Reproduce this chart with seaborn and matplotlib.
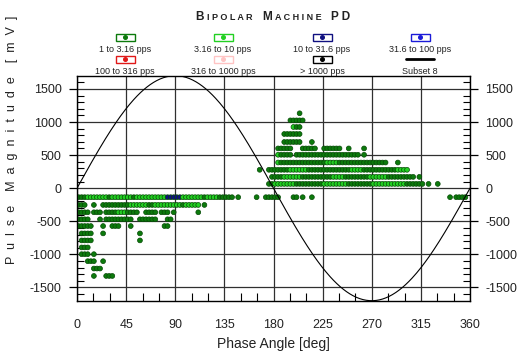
import numpy as np
import pandas as pd
import matplotlib
matplotlib.use("Agg")
import matplotlib.pyplot as plt
import seaborn as sns
from matplotlib.patches import Rectangle
from matplotlib.lines import Line2D
from matplotlib.offsetbox import TextArea, HPacker, AnchoredOffsetbox

# phase resolved PD pattern, 128 phase bins
phase_bin = 360 / 128
row_mv = [-136, -253, -364, -470, -572, -683, -789, -895, -997, -1103, -1214, -1326,
          65, 171, 278, 388, 505, 601, 698, 819, 925, 1025, 1132]
# (first bin, last bin, rate class) for every row
row_runs = [
    [(0, 2, 1), (3, 9, 2), (10, 10, 1), (11, 17, 2), (18, 18, 1), (19, 28, 2), (29, 33, 3),
     (34, 40, 2), (41, 41, 1), (42, 45, 2), (46, 50, 1), (52, 52, 1), (58, 58, 1), (61, 65, 1),
     (70, 71, 1), (73, 73, 1), (76, 76, 1), (121, 121, 1), (123, 126, 1)],
    [(0, 2, 1), (5, 5, 1), (8, 16, 1), (17, 22, 2), (23, 24, 1), (25, 33, 2), (34, 34, 1),
     (35, 39, 2), (41, 41, 1)],
    [(0, 3, 1), (5, 7, 1), (9, 12, 1), (13, 15, 2), (16, 19, 1), (22, 25, 1), (27, 29, 1),
     (31, 31, 1), (39, 39, 1)],
    [(0, 3, 1), (7, 7, 1), (9, 17, 1), (20, 25, 1), (29, 30, 1)],
    [(0, 4, 1), (8, 8, 1), (11, 13, 1), (17, 17, 1), (28, 29, 1)],
    [(1, 4, 1), (8, 8, 1), (20, 20, 1)],
    [(1, 4, 1), (20, 20, 1)],
    [(1, 3, 1)],
    [(1, 3, 1), (5, 5, 1)],
    [(3, 5, 1), (8, 8, 1)],
    [(5, 7, 1)],
    [(5, 5, 1), (9, 11, 1)],
    [(62, 63, 1), (64, 70, 2), (71, 79, 1), (80, 87, 2), (88, 95, 1), (96, 106, 2),
     (107, 112, 1), (114, 114, 1), (117, 117, 1)],
    [(63, 66, 1), (67, 72, 2), (73, 82, 1), (83, 86, 2), (87, 94, 1), (95, 100, 2),
     (101, 109, 1), (111, 111, 1)],
    [(59, 59, 1), (62, 68, 1), (69, 74, 2), (75, 88, 1), (89, 92, 2), (93, 103, 1),
     (104, 107, 2)],
    [(65, 65, 2), (66, 80, 1), (81, 84, 2), (85, 100, 1), (104, 104, 1)],
    [(65, 65, 2), (66, 69, 1), (71, 91, 1), (93, 93, 1)],
    [(65, 69, 1), (73, 77, 1), (80, 85, 1), (88, 88, 1), (93, 93, 1)],
    [(67, 72, 1), (76, 76, 1)],
    [(67, 72, 1)],
    [(70, 70, 2), (71, 72, 1)],
    [(69, 73, 1)],
    [(72, 72, 1)],
]

rate_labels = ["1 to 3.16 pps", "3.16 to 10 pps", "10 to 31.6 pps", "31.6 to 100 pps",
               "100 to 316 pps", "316 to 1000 pps", "> 1000 pps"]
rate_colors = ["#0c7a0c", "#22d022", "#101080", "#1a1ad8", "#e01818", "#ffc4c4", "#000000"]
sine_amp = 1700

pts = []
for mv, runs in zip(row_mv, row_runs):
    for b0, b1, cls in runs:
        for b in range(b0, b1 + 1):
            pts.append(((b + 0.5) * phase_bin, mv, rate_labels[cls - 1]))
df = pd.DataFrame(pts, columns=["phase", "mv", "rate"])

sns.set_theme(style="white")
plt.rcParams["font.family"] = ["Liberation Sans", "DejaVu Sans"]
plt.rcParams["axes.unicode_minus"] = False

fig = plt.figure(figsize=(5.21, 3.52), dpi=100)
W, H = 521, 352
ax = fig.add_axes([77 / W, 1 - 300.7 / H, 393 / W, 225 / H])

ax.grid(True, which="major", color="#303030", lw=0.9)
ax.set_axisbelow(True)

sns.scatterplot(data=df, x="phase", y="mv", hue="rate", hue_order=rate_labels[:3],
                palette=dict(zip(rate_labels, rate_colors)), s=12, linewidth=0.5,
                edgecolor="#064a06", legend=False, ax=ax, zorder=2)

curve_deg = np.linspace(0, 360, 361)
sns.lineplot(x=curve_deg, y=sine_amp * np.sin(np.radians(curve_deg)), color="black",
             lw=0.8, ax=ax, zorder=3)

ax.set_xlim(0, 360)
ax.set_ylim(-1700, 1700)
ax.set_xticks(np.arange(0, 361, 45))
ax.set_xticks(np.arange(0, 361, 15), minor=True)
ax.set_yticks(np.arange(-1500, 1501, 500))
ax.set_yticks(np.arange(-1600, 1601, 100), minor=True)
ax.tick_params(axis="x", which="major", direction="out", length=9, width=0.9,
               color="black", labelsize=9, labelcolor="#222222", pad=4)
ax.tick_params(axis="x", which="minor", direction="in", length=6, width=0.8,
               color="black", bottom=True)
ax.tick_params(axis="y", which="major", direction="out", length=6, width=0.9,
               color="black", left=True, right=True, labelleft=True, labelright=True,
               labelsize=9, labelcolor="#222222", pad=5)
ax.tick_params(axis="y", which="minor", direction="in", length=5, width=0.8,
               color="black", left=True, right=True)
ax.set_xlabel("")
ax.set_ylabel("")
for sp in ax.spines.values():
    sp.set_color("black")
    sp.set_linewidth(1.0)

fig.text(273 / W, 1 - 344 / H, "Phase Angle [deg]", ha="center", va="center",
         fontsize=10, color="#222222")
fig.text(12 / W, 1 - 140 / H, "P  u  l  s  e    M  a  g  n  i  t  u  d  e    [  m  V  ]",
         rotation=90, ha="center", va="center", fontsize=9, color="#222222")

# small caps title
parts = [("B", 8.5), ("I P O L A R", 6.5), ("M", 8.5), ("A C H I N E", 6.5), ("P D", 8.5)]
areas = [TextArea(t, textprops=dict(fontsize=s, fontweight="bold", color="#222222"))
         for t, s in parts]
row1 = HPacker(children=areas[:2], sep=2, align="baseline")
row2 = HPacker(children=areas[2:4], sep=2, align="baseline")
title_box = HPacker(children=[row1, row2, areas[4]], sep=7, align="baseline")
fig.add_artist(AnchoredOffsetbox(loc="center", child=title_box, frameon=False,
                                 bbox_to_anchor=(273 / W, 1 - 17 / H),
                                 bbox_transform=fig.transFigure, pad=0, borderpad=0))

# legend: boxes above labels, 4 columns x 2 rows
col_x = [125, 223, 322, 420]
row_y = [37, 59]
legend_labels = rate_labels + ["Subset 8"]
for i, lab in enumerate(legend_labels):
    cx, cy = col_x[i % 4], row_y[i // 4]
    if lab == "Subset 8":
        fig.add_artist(Line2D([(cx - 14) / W, (cx + 14) / W], [1 - cy / H, 1 - cy / H],
                              color="black", lw=2))
    else:
        c = rate_colors[i]
        fig.add_artist(Rectangle(((cx - 9.5) / W, 1 - (cy + 3.5) / H), 19 / W, 7 / H,
                                 fill=False, edgecolor=c, lw=1))
        fig.add_artist(Line2D([cx / W], [1 - cy / H], marker="o", markersize=2.6,
                              color=c, markeredgecolor=c))
    fig.text(cx / W, 1 - (cy + 12) / H, lab, ha="center", va="center", fontsize=6.5,
             color="#222222")

plt.savefig("out.png", dpi=100)
